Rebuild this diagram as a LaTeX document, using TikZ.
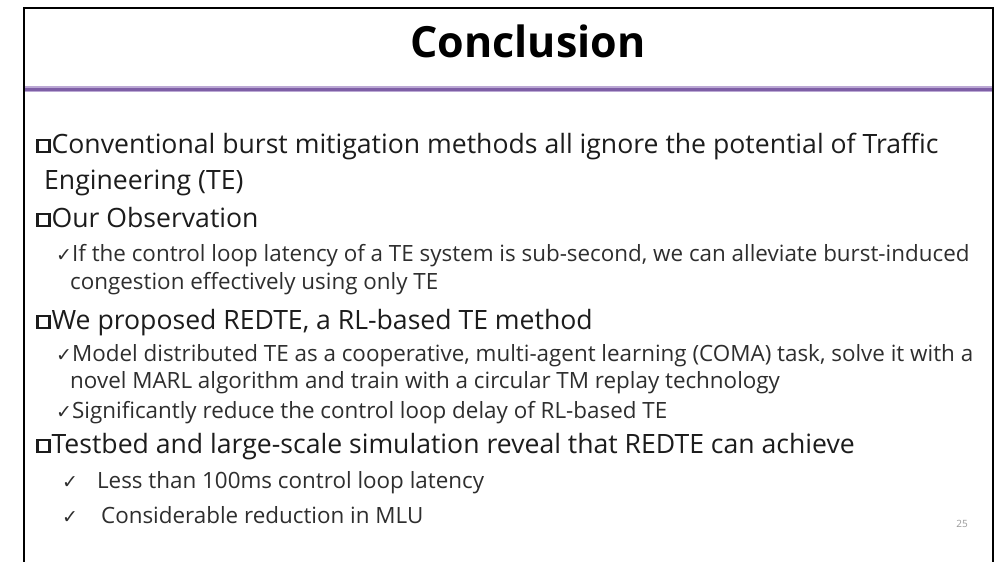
\documentclass[tikz,border=0pt]{standalone}
\usepackage{fontspec}
\setmainfont{Open Sans}
\newfontfamily\symfont{DejaVu Sans}
\definecolor{slidepurple}{HTML}{7E5FA6}
\definecolor{slidelav}{HTML}{BBA8D4}
\definecolor{maintext}{HTML}{1C1C1C}
\definecolor{subtext}{HTML}{2E2E2E}
% hollow square bullet
\newcommand\sqbullet{\raisebox{2.5pt}{\setlength{\fboxsep}{0pt}\setlength{\fboxrule}{2.4pt}\fbox{\rule{0pt}{9.6pt}\hspace{9.6pt}}}\hspace{1pt}}
\newcommand\tick{{\symfont\fontsize{19}{19}\selectfont ✓}}
\tikzset{
  mainline/.style={anchor=base west, inner sep=0pt, text=maintext, font=\fontsize{26.6}{30}\selectfont},
  subline/.style={anchor=base west, inner sep=0pt, text=subtext, font=\fontsize{22.4}{26}\selectfont},
  titletext/.style={anchor=base, inner sep=0pt, text=black, font=\fontsize{43}{48}\selectfont\bfseries},
}
\begin{document}
\begin{tikzpicture}[x=1pt,y=-1pt]
\useasboundingbox[fill=white] (0,0) rectangle (997,562);
% slide frame
\draw[line width=2pt, black] (24,562) -- (24,8) -- (993,8) -- (993,562);
% title and rule
\node[titletext] (title) at (528,57) {Conclusion};
\draw[line width=6pt, slidelav] (25,89) -- (992,89);
\draw[line width=3pt, slidepurple] (25,89) -- (992,89);
% bullet points
\node[mainline] (b1) at (36,153) {\sqbullet Conventional burst mitigation methods all ignore the potential of Traffic};
\node[mainline] (b1b) at (44,189) {Engineering (TE)};
\node[mainline] (b2) at (36,227) {\sqbullet Our Observation};
\node[subline] (s21) at (56,261) {\tick If the control loop latency of a TE system is sub-second, we can alleviate burst-induced};
\node[subline] (s21b) at (70,289) {congestion effectively using only TE};
\node[mainline] (b3) at (36,329) {\sqbullet We proposed REDTE, a RL-based TE method};
\node[subline] (s31) at (56,361) {\tick Model distributed TE as a cooperative, multi-agent learning (COMA) task, solve it with a};
\node[subline] (s31b) at (70,388) {novel MARL algorithm and train with a circular TM replay technology};
\node[subline] (s32) at (56,418) {\tick Significantly reduce the control loop delay of RL-based TE};
\node[mainline] (b4) at (36,453) {\sqbullet Testbed and large-scale simulation reveal that REDTE can achieve};
\node[subline] (s41) at (62,488) {\tick\hspace{19pt}Less than 100ms control loop latency};
\node[subline] (s42) at (62,523) {\tick\hspace{23pt}Considerable reduction in MLU};
\node[anchor=base, inner sep=0pt, text=black!40, font=\fontsize{10}{12}\selectfont] (pg) at (962,527) {25};
\end{tikzpicture}
\end{document}
